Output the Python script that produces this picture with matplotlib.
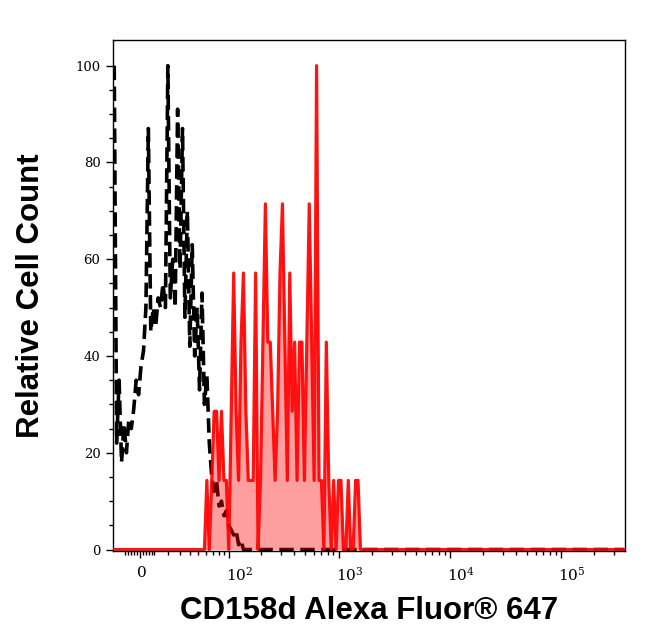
import numpy as np
import matplotlib
matplotlib.use("Agg")
import matplotlib.pyplot as plt
import matplotlib.transforms as mtransforms

# display transform (biexponential-like): asinh with linear width W
W = 32.4
x_lo, x_hi = -18.9, 3.8e5
n_bins = 210

# isotype control, % of mode, bins from the left edge
black_pct = [100, 22, 35, 18, 26, 20, 27, 25, 29, 35,
             32, 38, 41, 50, 87, 45, 50, 46, 52, 50,
             55, 50, 100, 52, 60, 50, 91, 58, 87, 48,
             70, 42, 63, 40, 50, 33, 53, 30, 36, 22,
             15, 12, 14, 9, 10, 7, 8, 5, 4, 3,
             4, 1, 2, 0]

# stained sample, raw counts per bin starting at bin red_start
red_start = 37
red_counts = [0, 1, 0, 1, 2, 2, 1, 2, 1, 1,
              0, 2, 4, 2, 1, 3, 4, 2, 1, 1,
              1, 4, 0, 1, 3, 5, 3, 3, 2, 1,
              2, 4, 5, 3, 1, 4, 2, 3, 1, 3,
              3, 1, 3, 5, 3, 1, 7, 1, 1, 0,
              3, 1, 0, 1, 0, 1, 1, 0, 0, 1,
              0, 0, 1, 1, 0]
red_max = 7

xticks_major = [0, 100, 1000, 10000, 100000]
xtick_labels = ['0', '$10^{2}$', '$10^{3}$', '$10^{4}$', '$10^{5}$']
xticks_minor = ([-10, -8, -6, -4, -2, 2, 4, 6, 8, 10] + list(range(20, 100, 10))
                + list(range(200, 1000, 100)) + list(range(2000, 10000, 1000))
                + list(range(20000, 100000, 10000)) + [200000, 300000])
yticks_major = [0, 20, 40, 60, 80, 100]
yticks_minor = [v for v in range(0, 105, 5) if v % 20]


def fwd(x):
    return np.arcsinh(np.asarray(x, dtype=float) / W)


def inv(t):
    return W * np.sinh(np.asarray(t, dtype=float))


t_edges = np.linspace(fwd(x_lo), fwd(x_hi), n_bins + 1)
x_mid = inv(0.5 * (t_edges[:-1] + t_edges[1:]))

black = np.zeros(n_bins)
black[:len(black_pct)] = black_pct
red = np.zeros(n_bins)
red[red_start:red_start + len(red_counts)] = np.array(red_counts) / red_max * 100

plt.rcParams['mathtext.fontset'] = 'dejavuserif'

fig = plt.figure(figsize=(6.46, 6.41), dpi=100)
ax = fig.add_axes([113 / 646, 90 / 641, 512 / 646, 511 / 641])
ax.set_xscale('function', functions=(fwd, inv))

ax.plot(x_mid, black, color='black', lw=2.6, linestyle=(0, (4.0, 1.8)), zorder=2)
ax.fill_between(x_mid, red, 0, color='#ff0000', alpha=0.38, lw=0, zorder=3)
ax.plot(x_mid, red, color='#ff0000', lw=2.3, alpha=0.92, zorder=4)

ax.set_xlim(x_lo, x_hi)
ax.set_ylim(-0.3, 105.3)

ax.set_xticks(xticks_major)
ax.set_xticklabels(xtick_labels, fontsize=11, family='DejaVu Serif', ha='left')
ax.set_xticks(xticks_minor, minor=True)
ax.set_yticks(yticks_major)
ax.set_yticklabels([str(v) for v in yticks_major], fontsize=9.5, family='DejaVu Serif')
ax.set_yticks(yticks_minor, minor=True)

ax.tick_params(axis='x', which='major', length=5, width=1, pad=6)
ax.tick_params(axis='x', which='minor', length=3, width=1)
ax.tick_params(axis='y', which='major', length=5, width=1, pad=4)
ax.tick_params(axis='y', which='minor', length=3, width=1)

shift = mtransforms.ScaledTranslation(-3 / 100, 0, fig.dpi_scale_trans)
for lab in ax.get_xticklabels():
    lab.set_transform(lab.get_transform() + shift)

for s in ax.spines.values():
    s.set_linewidth(1)

ax.set_xlabel('CD158d Alexa Fluor® 647', fontsize=22.5, fontweight='bold',
              family='Liberation Sans')
ax.set_ylabel('Relative Cell Count', fontsize=22.5, fontweight='bold',
              family='Liberation Sans')
ax.xaxis.set_label_coords(0.5, -0.088)
ax.yaxis.set_label_coords(-0.131, 0.5)

fig.savefig('out.png', dpi=100)
